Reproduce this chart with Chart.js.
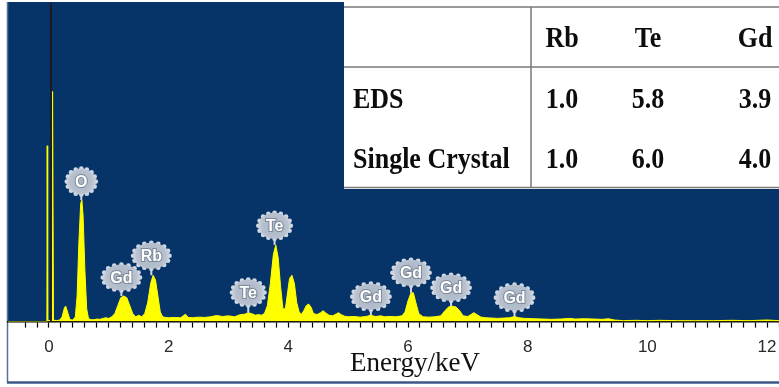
<!DOCTYPE html>
<html>
<head>
<meta charset="utf-8">
<script src="https://cdn.jsdelivr.net/npm/chart.js@4.4.1/dist/chart.umd.min.js"></script>
<style>
  html, body { margin: 0; padding: 0; background: #ffffff; }
  #wrap { position: relative; width: 779px; height: 387px; }
</style>
</head>
<body>
<div id="wrap"><canvas id="eds" width="779" height="387"></canvas></div>
<script>
  'use strict';

  // EDS spectrum (energy in keV, counts in arbitrary units 0-100)
  const energy = [
    -0.685, -0.05, -0.035, -0.03, -0.022, 0.00, 0.045, 0.06, 0.075, 0.12,
    0.18, 0.22, 0.26, 0.28, 0.31, 0.35, 0.40, 0.44, 0.47, 0.50,
    0.53, 0.55, 0.57, 0.60, 0.63, 0.66, 0.70, 0.75, 0.80, 0.85,
    0.90, 0.95, 1.00, 1.05, 1.10, 1.15, 1.20, 1.25, 1.30, 1.35,
    1.40, 1.45, 1.50, 1.55, 1.60, 1.65, 1.70, 1.74, 1.78, 1.82,
    1.86, 1.90, 1.95, 2.00, 2.10, 2.20, 2.28, 2.33, 2.40, 2.50,
    2.60, 2.70, 2.80, 2.90, 3.00, 3.10, 3.20, 3.27, 3.33, 3.40,
    3.45, 3.50, 3.55, 3.60, 3.65, 3.70, 3.75, 3.79, 3.83, 3.87,
    3.91, 3.95, 3.98, 4.02, 4.06, 4.10, 4.14, 4.18, 4.22, 4.26,
    4.30, 4.34, 4.38, 4.42, 4.48, 4.54, 4.58, 4.62, 4.68, 4.74,
    4.80, 4.84, 4.88, 4.94, 5.00, 5.10, 5.20, 5.30, 5.38, 5.45,
    5.55, 5.60, 5.70, 5.80, 5.90, 5.95, 6.00, 6.05, 6.09, 6.13,
    6.18, 6.25, 6.35, 6.45, 6.55, 6.62, 6.68, 6.74, 6.80, 6.86,
    6.92, 7.00, 7.05, 7.10, 7.15, 7.22, 7.30, 7.40, 7.50, 7.60,
    7.70, 7.78, 7.85, 7.95, 8.10, 8.25, 8.40, 8.55, 8.70, 8.80,
    8.95, 9.10, 9.25, 9.35, 9.45, 9.60, 9.80, 10.0, 10.2, 10.5,
    10.8, 11.1, 11.4, 11.7, 12.0, 12.2
  ];
  const counts = [
    0, 0, 0, 55, 0.5, 0.3, 0.5, 72, 0.5, 0.3,
    0.5, 1.5, 4.5, 4.8, 3.0, 0.6, 0.5, 1.5, 8, 25,
    37, 38, 33, 16, 4, 1.0, 0.6, 0.6, 0.8, 0.7,
    1.0, 1.2, 1.0, 1.5, 2.5, 5, 7.5, 8, 7.5, 5,
    2.5, 1.5, 2.0, 1.5, 2.5, 6, 12, 14.5, 13, 8,
    3, 1.5, 1.3, 1.2, 1.3, 1.2, 2.3, 1.3, 1.2, 1.4,
    1.3, 1.5, 1.9, 1.6, 1.8, 1.5, 2.2, 2.3, 2.8, 2.4,
    2.0, 2.2, 2.0, 2.5, 5, 12, 21, 24, 20, 11,
    4, 4, 8, 13.5, 14.5, 12, 6, 3, 2.3, 3.5,
    5, 5.5, 4.5, 2.5, 2.2, 2.8, 3.4, 2.8, 2.0, 1.8,
    2.4, 2.8, 2.2, 1.7, 1.5, 1.6, 1.4, 1.6, 2.0, 1.6,
    1.8, 1.5, 1.6, 1.5, 1.8, 3, 6.5, 9, 9, 6,
    2.5, 1.5, 1.4, 1.5, 1.8, 3.5, 4.6, 4.8, 4.6, 3.5,
    1.8, 1.6, 2.2, 2.8, 2.2, 1.4, 1.2, 1.1, 1.0, 1.1,
    1.2, 1.6, 1.2, 1.0, 0.9, 0.8, 0.7, 0.8, 1.0, 0.8,
    0.9, 0.8, 0.7, 0.9, 0.5, 0.3, 0.4, 0.3, 0.4, 0.3,
    0.3, 0.3, 0.4, 0.3, 0.5, 0.3
  ];

  // Peak markers: element, energy, badge centre height, peak top height
  const peakNames = ['O', 'Gd', 'Rb', 'Te', 'Te', 'Gd', 'Gd', 'Gd', 'Gd'];
  const peakEnergy = [0.54, 1.21, 1.71, 3.33, 3.77, 5.38, 6.05, 6.72, 7.78];
  const badgeHeight = [43.8, 13.8, 20.6, 9.1, 30.0, 7.8, 15.3, 10.6, 7.5];
  const peakTop = [38, 8, 14.5, 2.8, 24, 2.0, 9, 4.8, 1.6];

  // Composition table
  const tableColumns = ['Rb', 'Te', 'Gd'];
  const tableRows = ['EDS', 'Single Crystal'];
  const edsRatio = ['1.0', '5.8', '3.9'];
  const crystalRatio = ['1.0', '6.0', '4.0'];

  const xTickLabels = [0, 2, 4, 6, 8, 10, 12];
  const cursorEnergy = 0.033;

  const PLOT_BG = '#073468';
  const SPECTRUM = '#ffff00';

  const points = energy.map((e, i) => ({ x: e, y: counts[i] }));

  // Blue plot background, frame and the white strip under the axis
  const backgroundPlugin = {
    id: 'background',
    beforeDraw(chart) {
      const { ctx, chartArea: a } = chart;
      ctx.save();
      ctx.fillStyle = PLOT_BG;
      ctx.fillRect(a.left, a.top, a.right - a.left, a.bottom - a.top);
      ctx.strokeStyle = '#5a6f95';
      ctx.lineWidth = 1.5;
      ctx.beginPath();
      ctx.moveTo(a.left - 0.5, a.top);
      ctx.lineTo(a.left - 0.5, 382);
      ctx.stroke();
      ctx.strokeStyle = '#3c5688';
      ctx.lineWidth = 2.5;
      ctx.beginPath();
      ctx.moveTo(a.left - 1, 382.5);
      ctx.lineTo(chart.width, 382.5);
      ctx.stroke();
      ctx.restore();
    }
  };

  function drawBadge(ctx, cx, cy, text) {
    ctx.font = 'bold 16px "Liberation Sans", Arial, sans-serif';
    const tw = ctx.measureText(text).width;
    const rx = Math.max(14.5, tw / 2 + 7.5);
    const ry = 13;
    // scalloped edge
    ctx.fillStyle = '#d2d8e1';
    const n = 16;
    for (let k = 0; k < n; k++) {
      const t = (k / n) * Math.PI * 2;
      ctx.beginPath();
      ctx.arc(cx + Math.cos(t) * rx, cy + Math.sin(t) * ry, 2.3, 0, Math.PI * 2);
      ctx.fill();
    }
    const g = ctx.createRadialGradient(cx, cy, 2, cx, cy, rx);
    g.addColorStop(0, '#a9b5c6');
    g.addColorStop(0.75, '#b7c1cf');
    g.addColorStop(1, '#cfd6e0');
    ctx.fillStyle = g;
    ctx.beginPath();
    ctx.ellipse(cx, cy, rx, ry, 0, 0, Math.PI * 2);
    ctx.fill();
    ctx.textAlign = 'center';
    ctx.textBaseline = 'middle';
    ctx.lineWidth = 2;
    ctx.strokeStyle = '#7d8898';
    ctx.strokeText(text, cx, cy + 1);
    ctx.fillStyle = '#ffffff';
    ctx.fillText(text, cx, cy + 1);
    return ry;
  }

  // Serif table text, slightly taller than wide like the scanned figure
  function tallText(ctx, text, x, y) {
    ctx.save();
    ctx.translate(x, y);
    ctx.scale(1, 1.14);
    ctx.fillText(text, 0, 0);
    ctx.restore();
  }

  // Peak labels, cursor line, axis title and composition table
  const overlayPlugin = {
    id: 'overlay',
    afterDatasetsDraw(chart) {
      const { ctx, chartArea: a } = chart;
      const xs = chart.scales.x;
      const ys = chart.scales.y;
      ctx.save();

      // cursor line at 0 keV
      const cx0 = xs.getPixelForValue(cursorEnergy);
      ctx.strokeStyle = '#1c1c1c';
      ctx.lineWidth = 2;
      ctx.beginPath();
      ctx.moveTo(cx0, a.top + 1);
      ctx.lineTo(cx0, a.bottom);
      ctx.stroke();

      // element badges
      peakNames.forEach((name, i) => {
        const px = xs.getPixelForValue(peakEnergy[i]);
        const py = ys.getPixelForValue(badgeHeight[i]);
        const top = ys.getPixelForValue(peakTop[i]);
        ctx.strokeStyle = '#d3d9e2';
        ctx.lineWidth = 2;
        ctx.beginPath();
        ctx.moveTo(px, py + 10);
        ctx.lineTo(px, top);
        ctx.stroke();
        drawBadge(ctx, px, py, name);
      });

      // composition table
      const tl = 344, tt = 0, tr = chart.width, tb = 189;
      ctx.fillStyle = '#ffffff';
      ctx.fillRect(tl, tt, tr - tl, tb - tt);
      ctx.strokeStyle = '#7a7a7a';
      ctx.lineWidth = 1.5;
      ctx.beginPath();
      ctx.moveTo(tl, 7); ctx.lineTo(tr, 7);
      ctx.moveTo(tl, 67); ctx.lineTo(tr, 67);
      ctx.moveTo(tl, 187.5); ctx.lineTo(tr, 187.5);
      ctx.moveTo(531, 7); ctx.lineTo(531, 187.5);
      ctx.stroke();

      const colX = [562, 648, 755];
      ctx.fillStyle = '#0c0c0c';
      ctx.font = 'bold 26px "Liberation Serif", "Times New Roman", serif';
      ctx.textBaseline = 'alphabetic';
      ctx.textAlign = 'center';
      tableColumns.forEach((c, i) => tallText(ctx, c, colX[i], 47));
      edsRatio.forEach((v, i) => tallText(ctx, v, colX[i], 108));
      crystalRatio.forEach((v, i) => tallText(ctx, v, colX[i], 168));
      ctx.textAlign = 'left';
      tallText(ctx, tableRows[0], 353, 108);
      tallText(ctx, tableRows[1], 353, 168);

      // axis title
      ctx.font = '27px "Liberation Serif", "Times New Roman", serif';
      ctx.textAlign = 'center';
      ctx.fillStyle = '#111111';
      ctx.fillText('Energy/keV', 415, 371);

      ctx.restore();
    }
  };

  new Chart(document.getElementById('eds'), {
    type: 'line',
    data: {
      datasets: [{
        data: points,
        borderColor: SPECTRUM,
        backgroundColor: SPECTRUM,
        borderWidth: 1,
        fill: 'origin',
        pointRadius: 0,
        tension: 0
      }]
    },
    options: {
      responsive: false,
      animation: false,
      devicePixelRatio: 1,
      layout: { padding: { left: 8, top: 2, right: 0, bottom: 19 } },
      plugins: {
        legend: { display: false },
        tooltip: { enabled: false }
      },
      scales: {
        x: {
          type: 'linear',
          min: -0.685,
          max: 12.2,
          afterBuildTicks(scale) {
            scale.ticks = scale.ticks.filter(t => {
              const k = t.value / 0.2;
              return Math.abs(k - Math.round(k)) < 1e-6;
            });
          },
          afterFit(scale) {
            // no extra side padding for the end labels
            scale.paddingLeft = 0;
            scale.paddingRight = 0;
          },
          grid: {
            drawOnChartArea: false,
            color: '#000000',
            tickLength: 6,
            tickWidth: 1.2
          },
          border: { color: '#000000', width: 1.5 },
          ticks: {
            stepSize: 0.2,
            autoSkip: false,
            maxRotation: 0,
            padding: 10,
            color: '#2a2a2a',
            font: { family: '"Liberation Sans", Arial, sans-serif', size: 17 },
            callback(value) {
              const r = Math.round(value);
              return (Math.abs(value - r) < 1e-6 && xTickLabels.includes(r)) ? String(r) : '';
            }
          }
        },
        y: {
          display: false,
          min: 0,
          max: 100
        }
      }
    },
    plugins: [backgroundPlugin, overlayPlugin]
  });
</script>
</body>
</html>
